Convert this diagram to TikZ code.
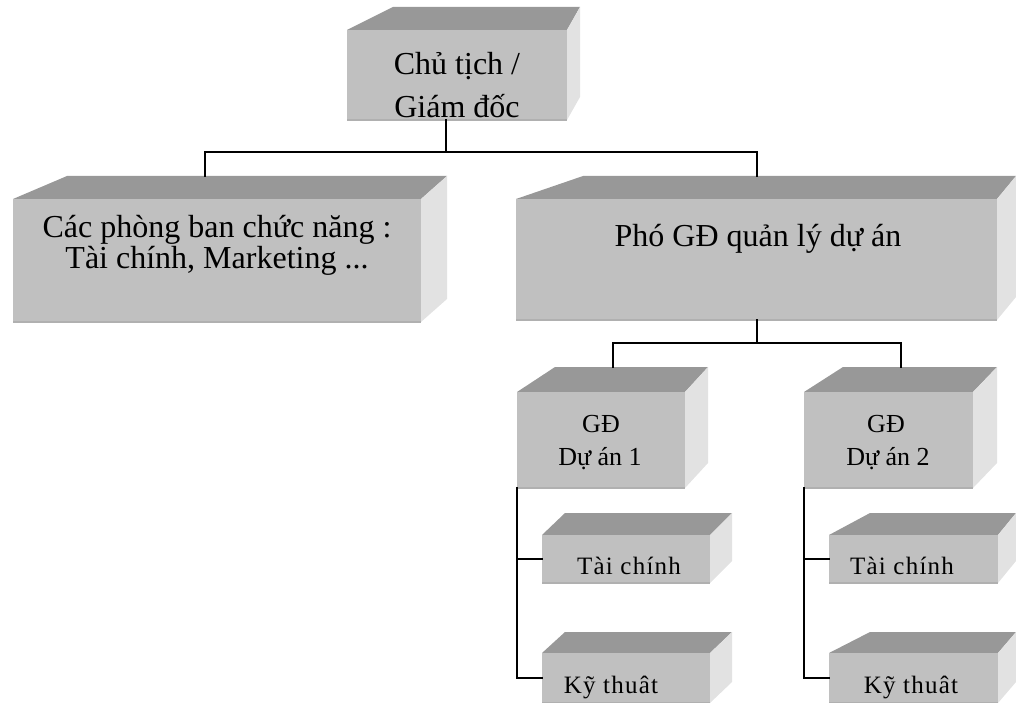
\documentclass[tikz,border=0pt]{standalone}
\usepackage{fontspec}
\setmainfont{Liberation Serif}
\definecolor{topgray}{RGB}{152,152,152}
\definecolor{frontgray}{RGB}{192,192,192}
\definecolor{sidegray}{RGB}{226,226,226}
\definecolor{rimgray}{RGB}{176,176,176}
% A bevelled block: #1 name, (#2,#3)-(#4,#5) front face,
% #6/#7 left/right x of the back edge, #8 its y
\newcommand{\cubeblock}[8]{%
  \fill[topface] (#2,#3) -- (#6,#8) -- (#7,#8) -- (#4,#3) -- cycle;
  \fill[sideface] (#4,#3) -- (#7,#8) -- (#7,{#5-#3+#8}) -- (#4,#5) -- cycle;
  \node[frontface, anchor=north west,
        minimum width={(#4-#2)*1pt}, minimum height={(#5-#3)*1pt}] (#1) at (#2,#3) {};
  \draw[rim] (#1.south west) -- (#1.south east);
  \coordinate (#1-back) at (#6,#8);
}
\begin{document}
\begin{tikzpicture}[x=1pt,y=-1pt,
  topface/.style={fill=topgray},
  sideface/.style={fill=sidegray},
  frontface/.style={fill=frontgray, draw=none, inner sep=0pt, outer sep=0pt},
  rim/.style={draw=rimgray, line width=1.2pt},
  conn/.style={draw=black, line width=2pt, line cap=rect},
  bigtxt/.style={font=\fontsize{32}{36}\selectfont, inner sep=0pt},
  midtxt/.style={font=\fontsize{26}{30}\selectfont, inner sep=0pt},
  smalltxt/.style={font=\fontsize{25}{28}\selectfont\addfontfeature{LetterSpace=5}, inner sep=0pt},
]
\useasboundingbox (0,0) rectangle (1016,703);

% blocks
\cubeblock{chu}{347}{30}{567}{120}{393}{580}{7}
\cubeblock{phong}{13}{199}{421}{322}{67}{447}{176}
\cubeblock{pho}{516}{199}{997}{320}{583}{1016}{176}
\cubeblock{gda}{517}{392}{685}{488}{555}{708}{367}
\cubeblock{gdb}{804}{392}{973}{488}{843}{997}{367}
\cubeblock{tca}{542}{535}{710}{583}{565}{732}{513}
\cubeblock{kta}{542}{653}{710}{703}{565}{732}{632}
\cubeblock{tcb}{829}{535}{998}{583}{870}{1016}{513}
\cubeblock{ktb}{829}{653}{998}{703}{870}{1016}{632}

% labels
\node[bigtxt, anchor=base] (chuA) at (457,75) {Chủ tịch /};
\node[bigtxt, anchor=base] (chuB) at (457,118) {Giám đốc};
\node[bigtxt, anchor=base] (phongA) at (217,237) {Các phòng ban chức năng :};
\node[bigtxt, anchor=base] (phongB) at (217,268) {Tài chính, Marketing ...};
\node[bigtxt, anchor=base] (phoA) at (758,247) {Phó GĐ quản lý dự án};
\node[midtxt, anchor=base] (gdaA) at (601,432) {GĐ};
\node[midtxt, anchor=base] (gdaB) at (600,465) {Dự án 1};
\node[midtxt, anchor=base] (gdbA) at (886,432) {GĐ};
\node[midtxt, anchor=base] (gdbB) at (888,465) {Dự án 2};
\node[smalltxt, anchor=base] (tcaT) at (629,574) {Tài chính};
\node[smalltxt, anchor=base] (ktaT) at (611,693) {Kỹ thuât};
\node[smalltxt, anchor=base] (tcbT) at (902,574) {Tài chính};
\node[smalltxt, anchor=base] (ktbT) at (911,693) {Kỹ thuât};

% junction points of the connectors
\coordinate (jTop) at (446,152);
\coordinate (jTopL) at (205,152);
\coordinate (jTopR) at (757,152);
\coordinate (jMid) at (757,343);
\coordinate (jMidL) at (613,343);
\coordinate (jMidR) at (901,343);

% chairman to first level
\draw[conn] (chu.south -| jTop) -- (jTop);
\draw[conn] (jTopL) -- (jTopR);
\draw[conn] (jTopL) -- (jTopL |- phong-back);
\draw[conn] (jTopR) -- (jTopR |- pho-back);

% deputy director to project directors
\draw[conn] (pho.south -| jMid) -- (jMid);
\draw[conn] (jMidL) -- (jMidR);
\draw[conn] (jMidL) -- (jMidL |- gda-back);
\draw[conn] (jMidR) -- (jMidR |- gdb-back);

% project directors to their departments
\draw[conn] (gda.south west) |- (kta.west);
\draw[conn] (gda.south west |- tca.west) -- (tca.west);
\draw[conn] (gdb.south west) |- (ktb.west);
\draw[conn] (gdb.south west |- tcb.west) -- (tcb.west);
\end{tikzpicture}
\end{document}
